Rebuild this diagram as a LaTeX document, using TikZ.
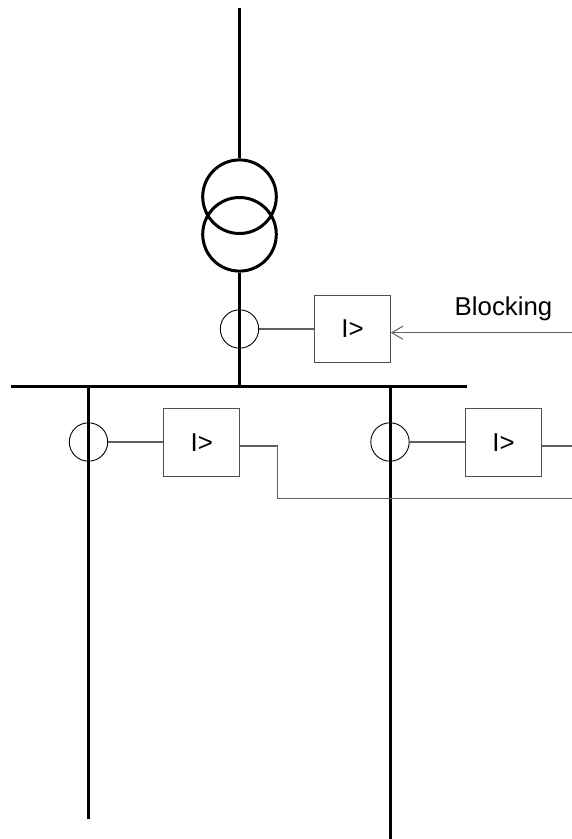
\documentclass[tikz,border=0pt]{standalone}
\usepackage{fontspec}
\setmainfont{Liberation Sans}
\usetikzlibrary{arrows.meta}
\definecolor{wire}{HTML}{606060}
\definecolor{frame}{HTML}{505050}
\tikzset{
  heavy/.style={line width=3pt, black},
  ctcirc/.style={circle, draw=black, line width=0.9pt, minimum size=38.4pt, inner sep=0pt},
  trafo/.style={circle, draw=black, line width=3pt, minimum size=73.6pt, inner sep=0pt},
  relay/.style={rectangle, draw=frame, line width=1.1pt, minimum width=76pt, minimum height=68pt, inner sep=0pt, font=\fontsize{25.8}{30}\selectfont},
  wireline/.style={draw=wire, line width=1.2pt},
  lbl/.style={font=\fontsize{25.8}{30}\selectfont, inner sep=0pt}
}
\begin{document}
\begin{tikzpicture}[x=1pt,y=-1pt]
\useasboundingbox (0,0) rectangle (572,839);
% transformer
\coordinate (top) at (239.5,8);
\node[trafo] (t1) at (239.5,196.7) {};
\node[trafo] (t2) at (239.5,234.3) {};
\coordinate (busT) at (239.5,386);
\draw[heavy] (top) -- (t1.north);
\draw[heavy] (t2.south) -- (busT);
% busbar
\coordinate (busL) at (11,386);
\coordinate (busR) at (467,386);
\draw[heavy] (busL) -- (busR);
% feeders
\coordinate (f1t) at (88.3,386);
\coordinate (f1b) at (88.3,818.5);
\coordinate (f2t) at (390,386);
\coordinate (f2b) at (390,839);
\draw[heavy] (f1t) -- (f1b);
\draw[heavy] (f2t) -- (f2b);
% incomer CT and relay
\node[ctcirc] (ct0) at (239.5,329) {};
\node[relay, minimum width=75.6pt, minimum height=67.7pt] (r0) at (352.5,329) {I>};
\draw[wireline] (ct0.east) -- (r0.west);
\coordinate (blk) at (572,332.7);
\draw[wireline, -{Straight Barb[length=11pt,width=13pt,line width=1pt]}] (blk) -- (r0.east |- blk);
\node[lbl, anchor=base] (blktxt) at (503.5,315) {Blocking};
% feeder 1
\node[ctcirc] (ct1) at (88.5,442) {};
\node[relay] (r1) at (201.7,442.5) {I>};
\draw[wireline] (ct1.east) -- (ct1.east -| r1.west);
\coordinate (o1a) at (277.5,446);
\coordinate (o1b) at (277.5,498.7);
\coordinate (o1c) at (572,498.7);
\draw[wireline] (r1.east |- o1a) -- (o1a) -- (o1b) -- (o1c);
% feeder 2
\node[ctcirc] (ct2) at (390,442) {};
\node[relay] (r2) at (503.6,442.5) {I>};
\draw[wireline] (ct2.east) -- (ct2.east -| r2.west);
\coordinate (o2) at (572,446);
\draw[wireline] (r2.east |- o2) -- (o2);
\end{tikzpicture}
\end{document}
